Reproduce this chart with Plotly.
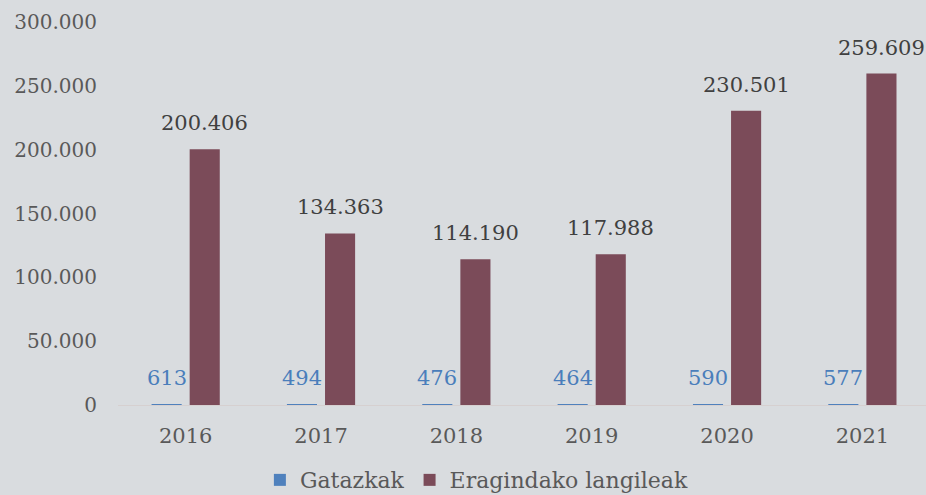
import plotly.graph_objects as go

years = ["2016", "2017", "2018", "2019", "2020", "2021"]
gatazkak = [613, 494, 476, 464, 590, 577]
langileak = [200406, 134363, 114190, 117988, 230501, 259609]
y_ticks = [0, 50000, 100000, 150000, 200000, 250000, 300000]
y_tick_labels = ["0", "50.000", "100.000", "150.000", "200.000", "250.000", "300.000"]

def fmt(v):
    return f"{v:,}".replace(",", ".")

FONT = "DejaVu Serif"
BG = "#d9dcdf"
BLUE = "#4f81bd"
MAROON = "#7b4b59"

fig = go.Figure()
fig.add_trace(go.Bar(name="Gatazkak", x=years, y=gatazkak, marker_color=BLUE,
                     marker_line_width=0))
fig.add_trace(go.Bar(name="Eragindako langileak", x=years, y=langileak,
                     marker_color=MAROON, marker_line_width=0))

for i, (y, g, l) in enumerate(zip(years, gatazkak, langileak)):
    fig.add_annotation(x=i, y=g, xref="x", yref="y", text=fmt(g), showarrow=False,
                       xshift=-19, yanchor="bottom", yshift=12,
                       font=dict(family=FONT, size=21, color="#4a7ebb"))
    fig.add_annotation(x=i, y=l, xref="x", yref="y", text=fmt(l), showarrow=False,
                       xshift=19, yanchor="bottom", yshift=12,
                       font=dict(family=FONT, size=21, color="#404040"))

fig.update_layout(
    width=926, height=495, autosize=False,
    paper_bgcolor=BG, plot_bgcolor=BG,
    margin=dict(l=118, r=0, t=22, b=90, autoexpand=False),
    barmode="group", bargap=0.437, bargroupgap=0.21,
    font=dict(family=FONT, size=20, color="#595959"),
    showlegend=True,
    legend=dict(orientation="h", xref="container", yref="paper",
                x=0.515, xanchor="center", y=-0.196, yanchor="middle",
                font=dict(family=FONT, size=22, color="#595959"),
                itemwidth=30, bgcolor="rgba(0,0,0,0)"),
    xaxis=dict(type="category", range=[-0.5, 5.47], showgrid=False, showline=True,
               linecolor="#d6d0d0", linewidth=1, ticks="", ticklabelstandoff=12,
               automargin=False,
               tickfont=dict(family=FONT, size=21, color="#595959"), zeroline=False),
    yaxis=dict(range=[0, 300000], tickvals=y_ticks, ticktext=y_tick_labels,
               showgrid=False, zeroline=False, showline=False, ticks="",
               ticklabelstandoff=20, automargin=False,
               tickfont=dict(family=FONT, size=20, color="#595959")),
)

fig.write_html("out.html", config={"displayModeBar": False},
               post_script="document.body.style.margin='0';")
